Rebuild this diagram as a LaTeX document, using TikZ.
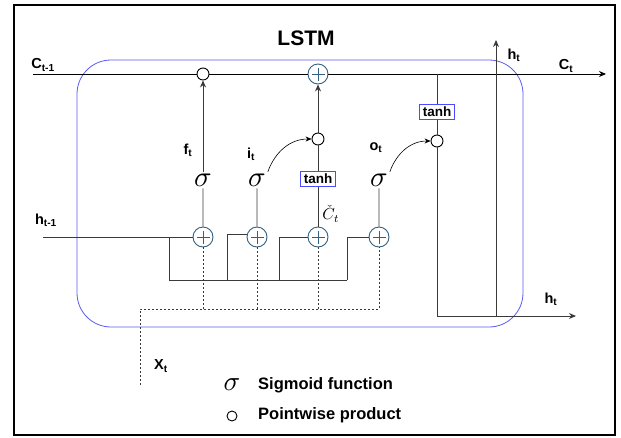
\documentclass[tikz,border=0pt]{standalone}
\usepackage{fontspec}
\setmainfont{Liberation Sans}
\usetikzlibrary{arrows.meta}
\definecolor{plusc}{HTML}{33607F}
\definecolor{boxblue}{HTML}{4A4AFF}
\definecolor{framec}{HTML}{5A5AF5}
\definecolor{linec}{HTML}{3A3A3A}
\begin{document}
\begin{tikzpicture}[x=1pt,y=-1pt,
  ln/.style={draw=linec,line width=0.9pt},
  arr/.style={ln,-{Stealth[length=7pt,width=6pt]}},
  dsh/.style={draw=linec,line width=0.8pt,dash pattern=on 2pt off 2pt},
  prod/.style={circle,draw=black,fill=white,line width=0.9pt,minimum size=12pt,inner sep=0pt},
  plusn/.style={circle,draw=plusc,fill=white,line width=0.9pt,minimum size=20pt,inner sep=0pt,
    path picture={\draw[plusc,line width=0.9pt] ([xshift=-6.5pt]path picture bounding box.center) -- ([xshift=6.5pt]path picture bounding box.center);
      \draw[plusc,line width=0.9pt] ([yshift=-6.5pt]path picture bounding box.center) -- ([yshift=6.5pt]path picture bounding box.center);}},
  tanhbox/.style={draw=boxblue,fill=white,line width=0.8pt,inner sep=0.5pt,minimum width=35pt,minimum height=15pt,font=\fontsize{13.5}{13.5}\selectfont\bfseries},
  sig/.style={inner sep=0.5pt,scale=2.9},
  lab/.style={font=\fontsize{14.5}{14.5}\selectfont\bfseries,inner sep=0pt},
  leg/.style={font=\fontsize{16.5}{16.5}\selectfont\bfseries,anchor=west,inner sep=0pt}
]
\useasboundingbox (0,0) rectangle (621,437);
\draw[line width=1.2pt] (14,5) rectangle (615,435);
\draw[framec,line width=0.8pt,rounded corners=34pt] (77,60) rectangle (523,327);

\node[font=\fontsize{21}{21}\selectfont\bfseries] (title) at (306,38) {LSTM};

% cell state line
\coordinate (cin) at (33,74);
\coordinate (cout) at (606,74);
\coordinate (jc) at (437,74);
\node[prod] (cf) at (203,74) {};
\node[plusn] (pc) at (318,74) {};
\draw[line width=0.9pt] (cin) -- (cf) -- (pc);
\draw[line width=0.9pt,-{Stealth[length=7pt,width=6pt]}] (pc) -- (cout);

% gates
\node[sig] (sf) at (203,180) {$\sigma$};
\node[sig] (si) at (257,180) {$\sigma$};
\node[tanhbox] (t1) at (318,179) {tanh};
\node[sig] (so) at (379,180) {$\sigma$};
\node[prod] (ci) at (318,139) {};
\node[tanhbox] (t2) at (437,112) {tanh};
\node[prod] (co) at (437,141) {};

\node[plusn] (p1) at (203,237) {};
\node[plusn] (p2) at (257,237) {};
\node[plusn] (p3) at (318,237) {};
\node[plusn] (p4) at (379,237) {};

\draw[arr] (sf) -- (cf);
\draw[arr] (ci) -- (pc);
\draw[ln] (t1) -- (ci);
\draw[line width=0.6pt,-{Stealth[length=6pt,width=5pt]}] (si.north east) to[out=70,in=180] (ci);
\draw[line width=0.6pt,-{Stealth[length=6pt,width=5pt]}] (so.north east) to[out=70,in=180] (co);

\draw[ln] (p1) -- (sf);
\draw[ln] (p2) -- (si);
\draw[ln] (p3) -- (t1);
\draw[ln] (p4) -- (so);

% output path
\coordinate (hc) at (437,316);
\coordinate (hb) at (496,316);
\coordinate (htop) at (496,40);
\coordinate (hend) at (576,316);
\draw[ln] (jc) -- (t2);
\draw[ln] (t2) -- (co);
\draw[ln] (co) -- (hc);
\draw[arr] (hc) -- (hend);
\draw[arr] (hb) -- (htop);

% h_{t-1} bus
\coordinate (hin) at (43,237);
\coordinate (b1) at (169,237);
\coordinate (b2) at (227,280);
\coordinate (b3) at (279,280);
\coordinate (b4) at (347,280);
\draw[ln] (hin) -- (p1);
\draw[ln] (b1) |- (b4);
\draw[ln] (b2) |- (p2.165);
\draw[ln] (b3) |- (p3.west);
\draw[ln] (b4) |- (p4.west);

% x_t dashed
\coordinate (x0) at (140,385);
\coordinate (x1) at (140,309);
\draw[dsh] (x0) -- (x1) -| (p4);
\draw[dsh] (p1) -- (p1 |- x1);
\draw[dsh] (p2) -- (p2 |- x1);
\draw[dsh] (p3) -- (p3 |- x1);

% labels
\node[lab] (lc0) at (43,65) {C\textsubscript{t-1}};
\node[lab] (lc1) at (566,66) {C\textsubscript{t}};
\node[lab] (lh0) at (46,220) {h\textsubscript{t-1}};
\node[lab] (lh1) at (514,55) {h\textsubscript{t}};
\node[lab] (lh2) at (551,299) {h\textsubscript{t}};
\node[lab] (lx) at (161,366) {X\textsubscript{t}};
\node[lab] (lf) at (188,150) {f\textsubscript{t}};
\node[lab] (li) at (251,154) {i\textsubscript{t}};
\node[lab] (lo) at (376,148) {o\textsubscript{t}};
\node[inner sep=0pt,scale=1.6,anchor=west] (lct) at (322,214) {$\check{C}_t$};

% legend
\node[sig,scale=0.95] (lsig) at (232,385) {$\sigma$};
\node[leg] (lt1) at (258,385) {Sigmoid function};
\node[prod,minimum size=10pt] (lcirc) at (232,416) {};
\node[leg] (lt2) at (258,415) {Pointwise product};
\end{tikzpicture}
\end{document}
